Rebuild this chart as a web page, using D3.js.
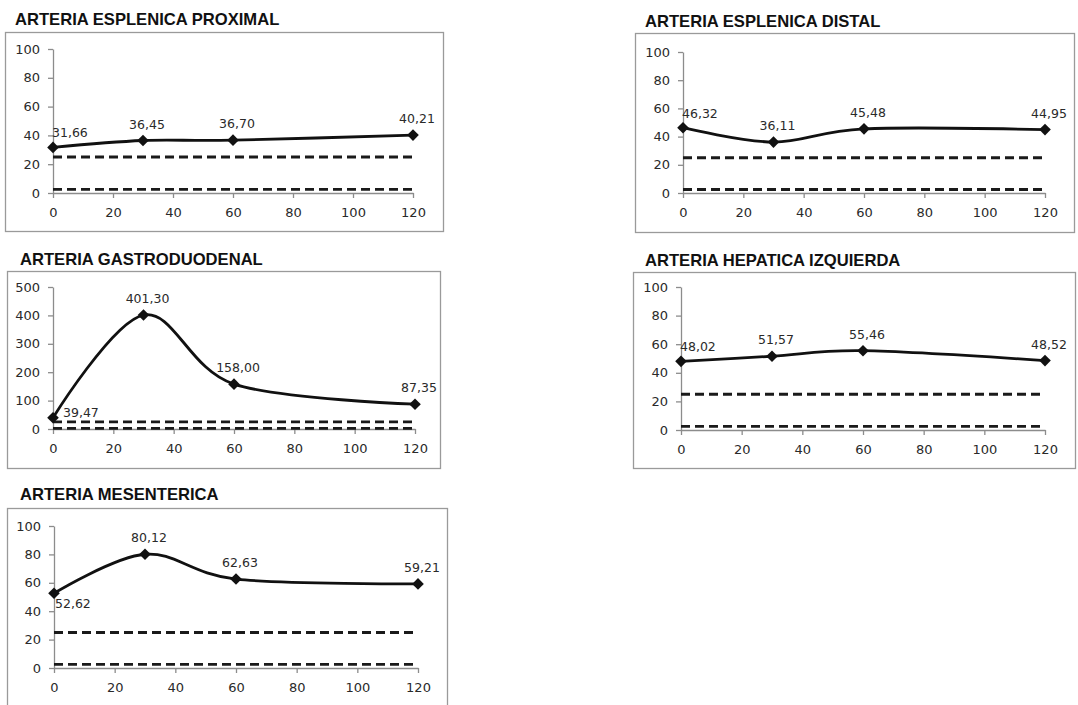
<!DOCTYPE html>
<html>
<head>
<meta charset="utf-8">
<script src="https://cdn.jsdelivr.net/npm/d3@7"></script>
<style>
  html, body { margin: 0; padding: 0; background: #fff; }
  svg { display: block; }
</style>
</head>
<body>
<svg id="chart" width="1078" height="705"></svg>
<script>
// Sampling times (minutes)
const times = [0, 30, 60, 120];
const xTicks = [0, 20, 40, 60, 80, 100, 120];

// Measured values per artery at each time
const esplenicaProximal = [31.66, 36.45, 36.70, 40.21];
const esplenicaDistal = [46.32, 36.11, 45.48, 44.95];
const gastroduodenal = [39.47, 401.30, 158.00, 87.35];
const hepaticaIzquierda = [48.02, 51.57, 55.46, 48.52];
const mesenterica = [52.62, 80.12, 62.63, 59.21];

// Reference band (dashed lines)
const refLevels = [25, 2.5];

// Y tick labels
const yTicks100 = [0, 20, 40, 60, 80, 100];
const yTicks500 = [0, 100, 200, 300, 400, 500];

const titles = [
  "ARTERIA ESPLENICA PROXIMAL",
  "ARTERIA ESPLENICA DISTAL",
  "ARTERIA GASTRODUODENAL",
  "ARTERIA HEPATICA IZQUIERDA",
  "ARTERIA MESENTERICA"
];

// Panel geometry: frame box, title origin, plot area
const panels = [
  { title: titles[0], values: esplenicaProximal, ticks: yTicks100,
    box: [5, 32, 438, 199], titleAt: [15, 25], plot: [53, 413, 193, 49], first: "start" },
  { title: titles[1], values: esplenicaDistal, ticks: yTicks100,
    box: [635, 33, 439, 199], titleAt: [645, 27], plot: [683, 1045, 193, 52], first: "start" },
  { title: titles[2], values: gastroduodenal, ticks: yTicks500,
    box: [7, 271, 433, 197], titleAt: [20, 265], plot: [53, 415, 429, 287], first: "right" },
  { title: titles[3], values: hepaticaIzquierda, ticks: yTicks100,
    box: [633, 272, 442, 196], titleAt: [645, 266], plot: [681, 1045, 430, 287], first: "start" },
  { title: titles[4], values: mesenterica, ticks: yTicks100,
    box: [7, 508, 440, 230], titleAt: [20, 500], plot: [54, 418, 668, 526], first: "below" }
];

const svg = d3.select("#chart");
const fmt = v => v.toFixed(2).replace(".", ",");
const axisColor = "#8c8c8c";
const textColor = "#2a2a2a";

panels.forEach(p => {
  const g = svg.append("g");
  const [bx, by, bw, bh] = p.box;

  g.append("rect")
    .attr("x", bx + 0.5).attr("y", by + 0.5)
    .attr("width", bw).attr("height", bh)
    .attr("fill", "#fff").attr("stroke", "#9a9a9a").attr("stroke-width", 1.3);

  g.append("text")
    .attr("x", p.titleAt[0]).attr("y", p.titleAt[1])
    .attr("font-family", "Liberation Sans, Arial, sans-serif")
    .attr("font-weight", "bold").attr("font-size", 16.6)
    .attr("fill", "#111")
    .text(p.title);

  const [x0, x1, y0, y1] = p.plot;
  const x = d3.scaleLinear().domain([0, 120]).range([x0, x1]);
  const y = d3.scaleLinear().domain([0, d3.max(p.ticks)]).range([y0, y1]);

  // axes
  const yAxis = g.append("g")
    .attr("transform", `translate(${x0},0)`)
    .call(d3.axisLeft(y).tickValues(p.ticks).tickSize(5).tickSizeOuter(0).tickPadding(8));
  const xAxis = g.append("g")
    .attr("transform", `translate(0,${y0})`)
    .call(d3.axisBottom(x).tickValues(xTicks).tickSize(5).tickSizeOuter(0).tickPadding(10));
  [yAxis, xAxis].forEach(a => {
    a.selectAll("path, line").attr("stroke", axisColor).attr("stroke-width", 1.3);
    a.selectAll("text")
      .attr("font-family", "DejaVu Sans, sans-serif")
      .attr("font-size", 13).attr("fill", textColor);
  });

  // dashed reference lines
  refLevels.forEach(lv => {
    g.append("line")
      .attr("x1", x(0)).attr("x2", x(120))
      .attr("y1", y(lv)).attr("y2", y(lv))
      .attr("stroke", "#1a1a1a").attr("stroke-width", 2.8)
      .attr("stroke-dasharray", "9,5");
  });

  const pts = times.map((t, i) => [t, p.values[i]]);

  // smoothed series line
  const line = d3.line()
    .x(d => x(d[0])).y(d => y(d[1]))
    .curve(d3.curveCardinal.tension(0));
  g.append("path")
    .attr("d", line(pts))
    .attr("fill", "none").attr("stroke", "#111").attr("stroke-width", 2.8);

  // diamond markers
  const r = 5.8;
  g.selectAll("path.marker").data(pts).enter().append("path")
    .attr("class", "marker")
    .attr("d", d => {
      const cx = x(d[0]), cy = y(d[1]);
      return `M${cx},${cy - r}L${cx + r},${cy}L${cx},${cy + r}L${cx - r},${cy}Z`;
    })
    .attr("fill", "#111");

  // value labels
  g.selectAll("text.val").data(pts).enter().append("text")
    .attr("class", "val")
    .attr("font-family", "DejaVu Sans, sans-serif")
    .attr("font-size", 12.5).attr("fill", textColor)
    .each(function (d, i) {
      const cx = x(d[0]), cy = y(d[1]);
      const t = d3.select(this).text(fmt(d[1]));
      if (i === 0 && p.first === "start") {
        t.attr("x", cx - 1).attr("y", cy - 10).attr("text-anchor", "start");
      } else if (i === 0 && p.first === "right") {
        t.attr("x", cx + 10).attr("y", cy - 1).attr("text-anchor", "start");
      } else if (i === 0 && p.first === "below") {
        t.attr("x", cx + 1).attr("y", cy + 15).attr("text-anchor", "start");
      } else {
        t.attr("x", cx + 4).attr("y", cy - 12).attr("text-anchor", "middle");
      }
    });
});
</script>
</body>
</html>
